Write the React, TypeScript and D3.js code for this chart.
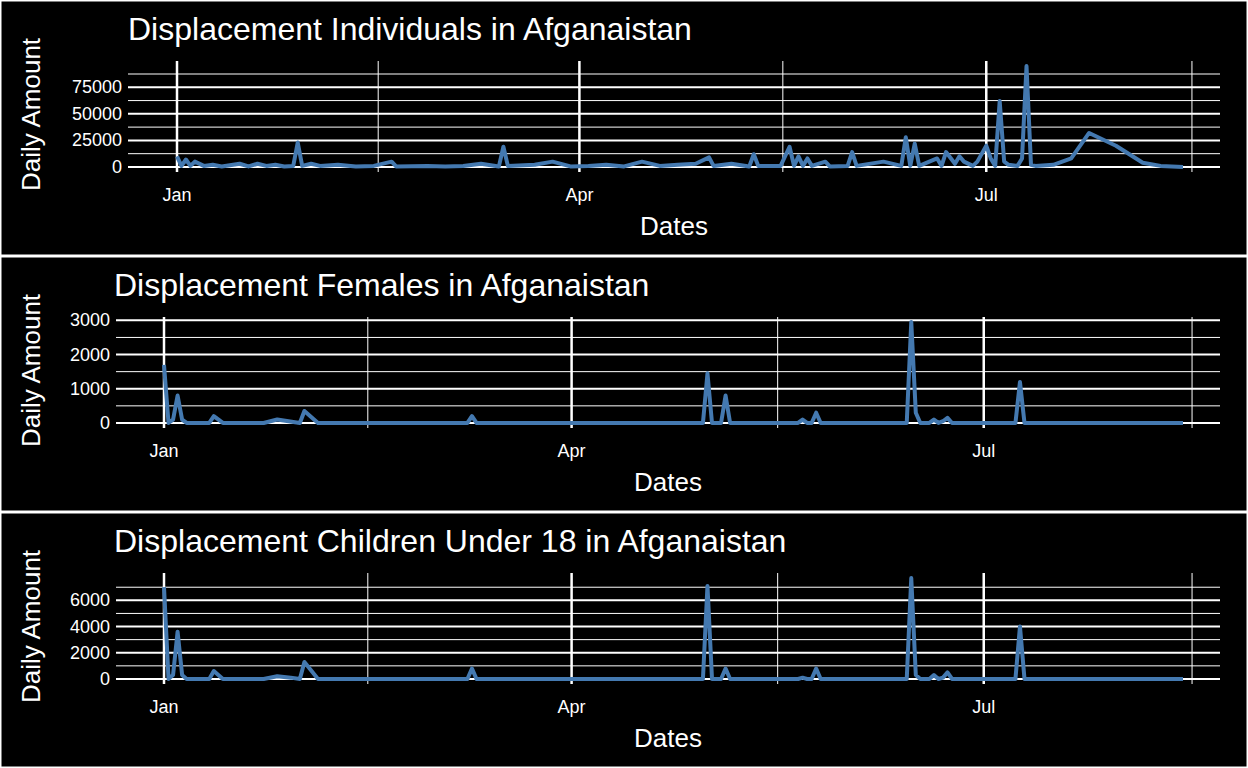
import * as d3 from 'd3';

// days counted from 1 January
const indivDays = [0, 1, 2, 3, 4, 6, 8, 10, 14, 16, 18, 20, 22, 24, 26, 27, 28, 30, 32, 36, 40, 44, 48, 49, 56, 60, 64, 68, 72, 73, 74, 80, 84, 88, 92, 96, 100, 104, 108, 112, 116, 119, 120, 124, 128, 129, 130, 135, 137, 138, 139, 140, 141, 142, 145, 146, 150, 151, 152, 158, 162, 163, 164, 165, 166, 170, 171, 172, 174, 175, 176, 178, 179, 181, 182, 183, 184, 185, 186, 188, 189, 190, 191, 192, 196, 200, 204, 210, 216, 220, 225];
const indivVals = [10000, 1000, 7000, 1000, 5000, 1000, 2000, 500, 3000, 500, 3000, 1000, 2000, 500, 1000, 23000, 1000, 3000, 1000, 2000, 500, 1000, 5000, 500, 1000, 500, 1000, 3000, 500, 19000, 1000, 2000, 5000, 500, 1000, 2000, 500, 5000, 1000, 2000, 3000, 9000, 1000, 3000, 500, 12000, 1000, 1000, 19000, 1000, 10000, 1000, 8000, 1000, 5000, 500, 1000, 14000, 1000, 5000, 1000, 28000, 1000, 22000, 1000, 8000, 1000, 14000, 3000, 10000, 5000, 1000, 5000, 20000, 8000, 1000, 62000, 5000, 2000, 1000, 8000, 95000, 2000, 1000, 2000, 8000, 32000, 20000, 4000, 1000, 0];

const femDays = [0, 1, 2, 3, 4, 5, 10, 11, 13, 22, 25, 30, 31, 34, 67, 68, 69, 119, 120, 121, 123, 124, 125, 140, 141, 142, 143, 144, 145, 164, 165, 166, 167, 169, 170, 171, 172, 173, 174, 176, 188, 189, 190, 225];
const femVals = [1700, 0, 100, 800, 100, 0, 0, 200, 0, 0, 100, 0, 350, 0, 0, 200, 0, 0, 1450, 0, 0, 800, 0, 0, 100, 0, 0, 300, 0, 0, 2950, 300, 0, 0, 100, 0, 50, 150, 0, 0, 0, 1200, 0, 0];

const childDays = [0, 1, 2, 3, 4, 5, 10, 11, 13, 22, 25, 28, 30, 31, 34, 67, 68, 69, 119, 120, 121, 123, 124, 125, 140, 141, 142, 143, 144, 145, 164, 165, 166, 167, 169, 170, 171, 172, 173, 174, 176, 188, 189, 190, 225];
const childVals = [7000, 0, 300, 3600, 300, 0, 0, 600, 0, 0, 200, 100, 0, 1300, 0, 0, 800, 0, 0, 7100, 0, 0, 800, 0, 0, 100, 0, 0, 800, 0, 0, 7700, 300, 0, 0, 300, 0, 100, 500, 0, 0, 0, 4000, 0, 0];

const monthTicks = [0, 90, 181];
const monthLabels = ['Jan', 'Apr', 'Jul'];
const minorMonthTicks = [45, 135.5, 227];

const panels = [
  { title: 'Displacement Individuals in Afganaistan', days: indivDays, vals: indivVals, ticks: [0, 25000, 50000, 75000], step: 25000, left: 128, jan: 177, endX: 1183, titleX: 128 },
  { title: 'Displacement Females in Afganaistan', days: femDays, vals: femVals, ticks: [0, 1000, 2000, 3000], step: 1000, left: 116, jan: 164, endX: 1183, titleX: 114 },
  { title: 'Displacement Children Under 18 in Afganaistan', days: childDays, vals: childVals, ticks: [0, 2000, 4000, 6000], step: 2000, left: 116, jan: 164, endX: 1183, titleX: 114 },
];

const W = 1248, H = 768, PH = 256;
const font = 'Liberation Sans, Arial, sans-serif';

function Panel({ p, oy }: { p: typeof panels[0]; oy: number }) {
  const max = d3.max(p.vals) as number;
  const pad = max * 0.05;
  const top = oy + 61, bottom = oy + 172, right = 1220;
  const y = d3.scaleLinear().domain([-pad, max + pad]).range([bottom, top]);
  const x = d3.scaleLinear().domain([0, 225]).range([p.jan, p.endX]);
  const minorY: number[] = [];
  for (let v = p.step / 2; v < max + pad; v += p.step) minorY.push(v);
  const pts = p.days.map((d, i) => [d, p.vals[i]] as [number, number]);
  const line = d3.line<[number, number]>().x(d => x(d[0])).y(d => y(d[1]));
  return (
    <g>
      <text x={p.titleX} y={oy + 40} fill="white" fontSize={32} fontFamily={font}>{p.title}</text>
      {minorY.map(v => <line key={'m' + v} x1={p.left} x2={right} y1={y(v)} y2={y(v)} stroke="white" strokeWidth={1} />)}
      {minorMonthTicks.map(v => <line key={'mx' + v} x1={x(v)} x2={x(v)} y1={top} y2={bottom} stroke="white" strokeWidth={1} />)}
      {p.ticks.map(v => <line key={'t' + v} x1={p.left} x2={right} y1={y(v)} y2={y(v)} stroke="white" strokeWidth={2} />)}
      {monthTicks.map(v => <line key={'tx' + v} x1={x(v)} x2={x(v)} y1={top} y2={bottom} stroke="white" strokeWidth={2.5} />)}
      {p.ticks.map(v => <text key={'l' + v} x={p.left - 6} y={y(v) + 6} fill="white" fontSize={18} fontFamily={font} textAnchor="end">{v}</text>)}
      {monthTicks.map((v, i) => <text key={'lx' + v} x={x(v)} y={bottom + 29} fill="white" fontSize={18} fontFamily={font} textAnchor="middle">{monthLabels[i]}</text>)}
      <path d={line(pts) as string} fill="none" stroke="#4479b0" strokeWidth={4} strokeLinejoin="round" />
      <text x={(p.left + right) / 2} y={oy + 235} fill="white" fontSize={26} fontFamily={font} textAnchor="middle">Dates</text>
      <text transform={`translate(40,${(top + bottom) / 2 - 2}) rotate(-90)`} fill="white" fontSize={26} fontFamily={font} textAnchor="middle">Daily Amount</text>
    </g>
  );
}

export default function App() {
  return (
    <div style={{ position: 'fixed', left: 0, top: 0 }}>
      <svg width={W} height={H} style={{ display: 'block' }}>
        <rect width={W} height={H} fill="black" />
        {panels.map((p, i) => (
          <g key={i}>
            <Panel p={p} oy={i * PH} />
            <rect x={0.5} y={i * PH + 0.5} width={W - 1} height={PH - 1} fill="none" stroke="white" strokeWidth={2} />
          </g>
        ))}
      </svg>
    </div>
  );
}
